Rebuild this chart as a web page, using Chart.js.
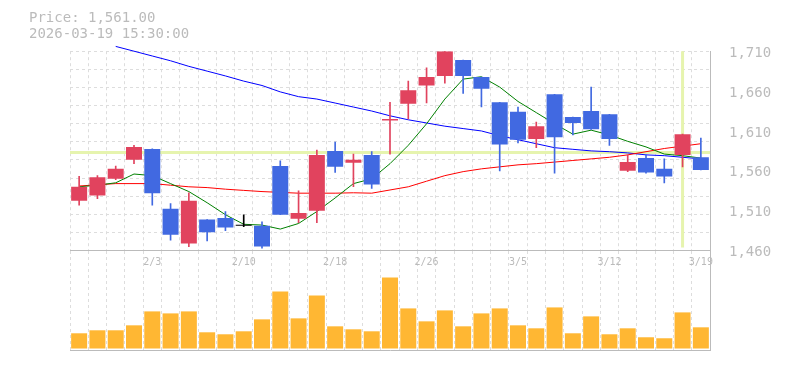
<!DOCTYPE html>
<html>
<head>
<meta charset="utf-8">
<script src="https://cdn.jsdelivr.net/npm/chart.js@4.4.1/dist/chart.umd.min.js"></script>
<style>
  body { margin: 0; background: #fff; }
  #wrap { position: relative; width: 785px; height: 370px; }
  #volBox { position: absolute; left: 0; top: 0; width: 785px; height: 370px; }
  #priceBox { position: absolute; left: 0; top: 0; width: 785px; height: 270px; }
</style>
</head>
<body>
<div id="wrap">
  <div id="volBox"><canvas id="volChart"></canvas></div>
  <div id="priceBox"><canvas id="priceChart"></canvas></div>
</div>
<script>
// daily bars, 1/28 - 3/19
const dates = ['1/28', '1/29', '1/30', '2/2', '2/3', '2/4', '2/5', '2/6', '2/9', '2/10',
  '2/12', '2/13', '2/16', '2/17', '2/18', '2/19', '2/20', '2/24', '2/25', '2/26',
  '2/27', '3/2', '3/3', '3/4', '3/5', '3/6', '3/9', '3/10', '3/11', '3/12',
  '3/13', '3/16', '3/17', '3/18', '3/19'];
const shownDates = ['2/3', '2/10', '2/18', '2/26', '3/5', '3/12', '3/19'];

const opens = [1522.5, 1529, 1550, 1574, 1587.5, 1512.5, 1469, 1499, 1501, 1491,
  1491, 1566, 1500, 1510, 1585, 1570, 1580, 1623, 1644, 1667,
  1679, 1699, 1677.5, 1646, 1634, 1600, 1656, 1627.5, 1635, 1631,
  1560, 1576, 1562.5, 1580, 1577];
const highs = [1553, 1554, 1566, 1592, 1587.5, 1519, 1532.5, 1499, 1509, 1505,
  1496, 1572.5, 1535, 1586, 1596, 1581, 1584, 1646, 1672.5, 1689,
  1710, 1699, 1677.5, 1646, 1640, 1621, 1656, 1627.5, 1665, 1631,
  1580, 1580, 1575, 1606, 1601];
const lows = [1517, 1525, 1549, 1569, 1517, 1473, 1465, 1472, 1485, 1490,
  1463, 1505, 1495, 1495, 1558, 1540, 1538, 1581, 1625, 1645,
  1670, 1657, 1640, 1560, 1595, 1589, 1557, 1605, 1612, 1592,
  1559, 1557, 1545, 1565, 1561];
const closes = [1540, 1552, 1562.5, 1590, 1532, 1480, 1522.5, 1483, 1489, 1491,
  1465, 1505, 1507, 1580, 1565, 1574, 1543, 1625, 1661, 1677.5,
  1710, 1679, 1663, 1593, 1599, 1616, 1602, 1620, 1612, 1600,
  1571, 1558, 1553, 1606, 1561];

// moving averages
const ma5 = [1540, 1542, 1545, 1556, 1554, 1544, 1534, 1520, 1505, 1493,
  1492, 1487, 1494, 1509, 1526, 1544, 1550, 1569, 1592, 1619,
  1650, 1675, 1678, 1665, 1647, 1633, 1619, 1606, 1611, 1605,
  1597, 1590, 1581, 1579, 1576];
const ma25 = [1541, 1542.5, 1544, 1544, 1544, 1542, 1540, 1539, 1537, 1535.5,
  1534, 1533, 1532, 1532, 1532, 1532.5, 1532, 1536, 1540, 1547,
  1554, 1559, 1562.5, 1565, 1567.5, 1569, 1571, 1573, 1575, 1577,
  1580, 1584, 1588, 1591, 1594];
const ma75 = [null, null, 1716, 1710, 1704, 1698, 1691, 1685, 1679, 1672.5,
  1667, 1659, 1653, 1650, 1645, 1640, 1635, 1629, 1624, 1620,
  1616, 1613, 1610, 1604, 1599, 1594, 1589, 1587, 1585, 1584,
  1582.5, 1580, 1579, 1577, 1575];

// volume (thousand shares)
const volumes = [153, 183, 183, 233, 373, 353, 373, 163, 143, 173,
  293, 573, 303, 533, 223, 193, 173, 713, 403, 273,
  383, 223, 353, 403, 233, 203, 413, 153, 323, 143,
  203, 113, 103, 363, 213];

const priceTicks = [1460, 1510, 1560, 1610, 1660, 1710];
const crossIndex = 33;
const crossPrice = 1583;
const stamp = '2026-03-19 15:30:00';

const upColor = '#e1435e';
const downColor = '#4169e1';
const dojiColor = '#000000';
const gridColor = '#dddddd';
const textColor = '#bbbbbb';
const mono = "'DejaVu Sans Mono', 'Liberation Mono', monospace";

function candleColor(i) {
  if (closes[i] > opens[i]) return upColor;
  if (closes[i] < opens[i]) return downColor;
  return dojiColor;
}

const crosshair = {
  id: 'crosshair',
  beforeDatasetsDraw(chart) {
    const { ctx, chartArea: a, scales: { x, y } } = chart;
    const px = x.getPixelForValue(crossIndex);
    const py = y.getPixelForValue(crossPrice);
    ctx.save();
    ctx.strokeStyle = '#e6f4ae';
    ctx.lineWidth = 3;
    ctx.beginPath();
    ctx.moveTo(a.left, py);
    ctx.lineTo(a.right, py);
    ctx.moveTo(px, a.top);
    ctx.lineTo(px, a.bottom - 3);
    ctx.stroke();
    ctx.restore();
  }
};

const lastPrice = closes[closes.length - 1];

new Chart(document.getElementById('priceChart'), {
  type: 'bar',
  data: {
    labels: dates,
    datasets: [
      {
        label: 'Body',
        data: dates.map((d, i) => [opens[i], closes[i]]),
        backgroundColor: ctx => candleColor(ctx.dataIndex),
        barPercentage: 0.875,
        categoryPercentage: 1,
        grouped: false,
        minBarLength: 1,
        order: 0
      },
      {
        label: 'Wick',
        data: dates.map((d, i) => [lows[i], highs[i]]),
        backgroundColor: ctx => candleColor(ctx.dataIndex),
        barThickness: 1,
        grouped: false,
        order: 1
      },
      { type: 'line', label: 'MA5', data: ma5, borderColor: '#008000', borderWidth: 1, pointRadius: 0, order: 2 },
      { type: 'line', label: 'MA25', data: ma25, borderColor: '#ff0000', borderWidth: 1, pointRadius: 0, order: 3 },
      { type: 'line', label: 'MA75', data: ma75, borderColor: '#0000ff', borderWidth: 1, pointRadius: 0, order: 4, clip: false }
    ]
  },
  options: {
    responsive: true,
    maintainAspectRatio: false,
    animation: false,
    layout: { padding: { left: 29, right: 0, top: 0, bottom: 0 } },
    plugins: {
      legend: { display: false },
      tooltip: { enabled: false },
      title: {
        display: true,
        align: 'start',
        text: ['Price: ' + lastPrice.toLocaleString('en-US', { minimumFractionDigits: 2 }), stamp],
        color: textColor,
        font: { family: mono, size: 14, weight: 'normal', lineHeight: 1.15 },
        padding: { top: 10, bottom: 9 }
      }
    },
    scales: {
      x: {
        offset: true,
        grid: { offset: true, color: gridColor, drawTicks: false, borderDash: [3, 3] },
        border: { display: true, color: textColor, dash: [3, 3] },
        ticks: {
          autoSkip: false,
          maxRotation: 0,
          padding: 6,
          color: textColor,
          font: { family: mono, size: 10 },
          callback: (v, i) => shownDates.includes(dates[i]) ? dates[i] : ''
        },
        afterFit: s => { s.height = 19; }
      },
      y: {
        position: 'right',
        min: 1460,
        max: 1710,
        afterBuildTicks: s => { s.ticks = priceTicks.map(v => ({ value: v })); },
        grid: { display: false },
        border: { display: true, color: textColor },
        ticks: {
          padding: 11,
          labelOffset: 2,
          color: textColor,
          font: { family: mono, size: 14 },
          callback: v => v.toLocaleString('en-US')
        },
        afterFit: s => { s.width = 75; }
      },
      yGrid: {
        position: 'left',
        min: 0,
        max: 11,
        ticks: { display: false, stepSize: 1 },
        grid: { color: gridColor, drawTicks: false, borderDash: [3, 3] },
        border: { display: false, dash: [3, 3] },
        afterFit: s => { s.width = 41; }
      }
    }
  },
  plugins: [crosshair]
});

new Chart(document.getElementById('volChart'), {
  type: 'bar',
  data: {
    labels: dates,
    datasets: [{
      label: 'Volume',
      data: volumes,
      backgroundColor: '#ffb733',
      barPercentage: 0.875,
      categoryPercentage: 1
    }]
  },
  options: {
    responsive: true,
    maintainAspectRatio: false,
    animation: false,
    layout: { padding: { left: 70, right: 75, top: 251, bottom: 20 } },
    plugins: { legend: { display: false }, tooltip: { enabled: false } },
    scales: {
      x: {
        offset: true,
        grid: { offset: true, color: gridColor, drawTicks: false, borderDash: [3, 3] },
        border: { display: true, color: textColor, dash: [3, 3] },
        ticks: { display: false },
        afterFit: s => { s.height = 0; }
      },
      y: {
        position: 'right',
        min: -15,
        max: 980,
        grid: { display: false },
        border: { display: true, color: textColor },
        ticks: { display: false },
        afterFit: s => { s.width = 0; }
      }
    }
  }
});
</script>
</body>
</html>
